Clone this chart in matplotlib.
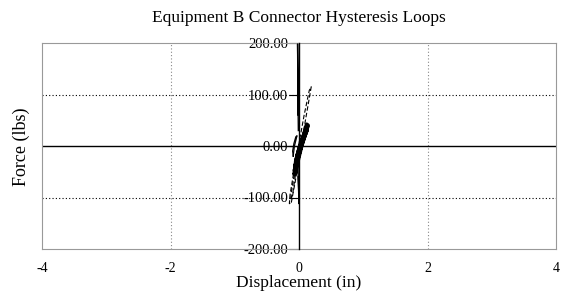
import matplotlib
matplotlib.use("Agg")
import matplotlib.pyplot as plt
from matplotlib.ticker import FormatStrFormatter

plt.rcParams['font.family'] = ['Liberation Serif', 'DejaVu Serif']

title = "Equipment B Connector Hysteresis Loops"
xlabel = "Displacement (in)"
ylabel = "Force (lbs)"
xticks = [-4, -2, 0, 2, 4]
yticks = [-200, -100, 0, 100, 200]

# spike at start of test
spike_disp = [-0.010, -0.018, -0.022, -0.018, -0.012]
spike_force = [30, 120, 198, 150, 60]

# large dashed loop
dash_disp = [-0.12, -0.06, 0.02, 0.10, 0.17, 0.19, 0.16, 0.08, 0.00, -0.08, -0.14, -0.15, -0.12]
dash_force = [-110, -70, -10, 50, 100, 115, 108, 60, 5, -50, -95, -112, -110]

# dense solid loops
solid_disp = [-0.06, -0.02, 0.04, 0.09, 0.12, 0.11, 0.06, 0.00, -0.04, -0.07, -0.06,
              -0.05, 0.00, 0.05, 0.10, 0.13, 0.11, 0.05, -0.01, -0.05, -0.06,
              -0.04, 0.01, 0.06, 0.11, 0.12, 0.09, 0.03, -0.02, -0.05, -0.04,
              -0.07, -0.03, 0.02, 0.08, 0.12, 0.10, 0.04, -0.02, -0.06, -0.07,
              -0.05, -0.01, 0.04, 0.09, 0.14, 0.12, 0.07, 0.01, -0.04, -0.05]
solid_force = [-45, -20, 5, 25, 35, 30, 10, -12, -30, -48, -45,
               -40, -15, 8, 28, 38, 32, 12, -10, -32, -40,
               -35, -10, 10, 26, 30, 22, 4, -15, -30, -35,
               -55, -30, -5, 18, 32, 28, 8, -18, -40, -55,
               -50, -25, 0, 20, 40, 42, 20, -5, -35, -50]

# small loop near origin
small_disp = [-0.09, -0.07, -0.04, -0.03, -0.05, -0.08, -0.10, -0.09]
small_force = [-20, 0, 15, 20, 18, 5, -10, -20]

# lower dashed tail
tail_disp = [-0.04, -0.08, -0.12, -0.13, -0.10, -0.06, -0.04]
tail_force = [-30, -60, -90, -105, -95, -60, -30]

# long solid stroke down along the axis
stroke_disp = [-0.02, -0.01, 0.00, -0.01]
stroke_force = [-20, -70, -112, -60]

fig = plt.figure(figsize=(5.64, 2.97), dpi=100)
ax = fig.add_axes([42/564, 1-249/297, (556-42)/564, (249-43)/297])

ax.set_xlim(-4, 4)
ax.set_ylim(-200, 200)

for x in [-2, 2]:
    ax.axvline(x, color='#888888', lw=0.8, ls=(0, (1, 2)), zorder=1)
for y in [-100, 100]:
    ax.axhline(y, color='black', lw=0.8, ls=(0, (1, 2)), zorder=1)
ax.axhline(0, color='black', lw=1.0, zorder=2)

ax.plot(solid_disp, solid_force, color='black', lw=2.8, zorder=3)
ax.plot(dash_disp, dash_force, color='black', lw=0.8, ls=(0, (4, 2)), zorder=3)
ax.plot(tail_disp, tail_force, color='black', lw=0.8, ls=(0, (4, 2)), zorder=3)
ax.plot(small_disp, small_force, color='black', lw=0.8, zorder=3)
ax.plot(stroke_disp, stroke_force, color='black', lw=1.0, zorder=3)
ax.plot(spike_disp, spike_force, color='black', lw=1.0, zorder=3)

for s in ['top', 'right', 'bottom']:
    ax.spines[s].set_color('#999999')
    ax.spines[s].set_linewidth(0.8)
ax.spines['left'].set_position(('data', 0))
ax.spines['left'].set_color('black')
ax.spines['left'].set_linewidth(1.0)
ax.spines['left'].set_zorder(4)

# left frame line
ax.plot([0, 0], [0, 1], transform=ax.transAxes, color='#999999', lw=0.8, clip_on=False)

ax.set_xticks(xticks)
ax.set_xticklabels([str(v) for v in xticks])
ax.set_yticks(yticks)
ax.yaxis.set_major_formatter(FormatStrFormatter('%.2f'))
ax.tick_params(axis='x', length=0, pad=9, labelsize=10)
ax.tick_params(axis='y', length=7, width=0.8, pad=1, labelsize=10.5, direction='out')

ax.set_title(title, fontsize=12.5, pad=15)
ax.set_xlabel(xlabel, fontsize=12.5, labelpad=0.5)
fig.text(21/564, 1-147/297, ylabel, rotation=90, fontsize=13, ha='center', va='center')

fig.savefig("out.png", dpi=100)
